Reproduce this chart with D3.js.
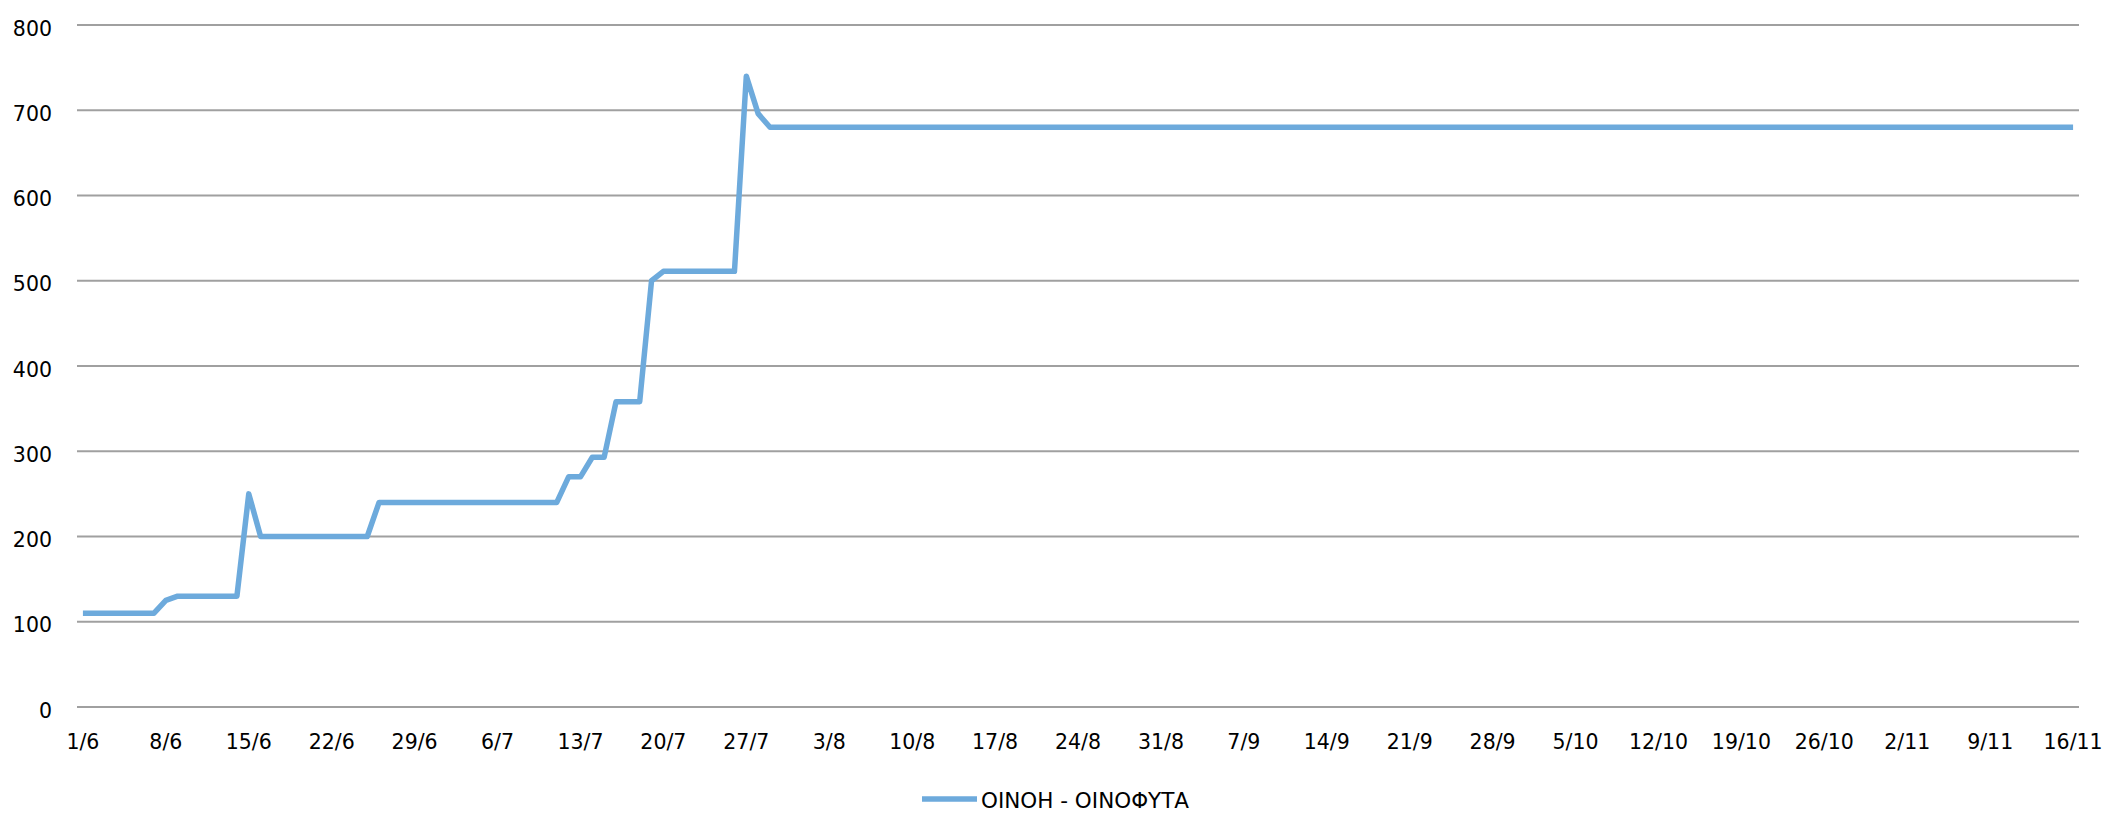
<!DOCTYPE html>
<html>
<head>
<meta charset="utf-8">
<script src="https://cdn.jsdelivr.net/npm/d3@7"></script>
<style>
  html, body { margin: 0; padding: 0; background: #ffffff; }
  svg { display: block; }
  text { font-family: "DejaVu Sans", Verdana, sans-serif; fill: #000; }
</style>
</head>
<body>
<svg id="chart" width="2109" height="840"></svg>
<script>
// ---- Data ----
const dates = [
  "1/6","2/6","3/6","4/6","5/6","6/6","7/6","8/6","9/6","10/6","11/6","12/6","13/6","14/6","15/6","16/6","17/6","18/6","19/6","20/6","21/6","22/6","23/6","24/6","25/6","26/6","27/6","28/6","29/6","30/6",
  "1/7","2/7","3/7","4/7","5/7","6/7","7/7","8/7","9/7","10/7","11/7","12/7","13/7","14/7","15/7","16/7","17/7","18/7","19/7","20/7","21/7","22/7","23/7","24/7","25/7","26/7","27/7","28/7","29/7","30/7","31/7",
  "1/8","2/8","3/8","4/8","5/8","6/8","7/8","8/8","9/8","10/8","11/8","12/8","13/8","14/8","15/8","16/8","17/8","18/8","19/8","20/8","21/8","22/8","23/8","24/8","25/8","26/8","27/8","28/8","29/8","30/8","31/8",
  "1/9","2/9","3/9","4/9","5/9","6/9","7/9","8/9","9/9","10/9","11/9","12/9","13/9","14/9","15/9","16/9","17/9","18/9","19/9","20/9","21/9","22/9","23/9","24/9","25/9","26/9","27/9","28/9","29/9","30/9",
  "1/10","2/10","3/10","4/10","5/10","6/10","7/10","8/10","9/10","10/10","11/10","12/10","13/10","14/10","15/10","16/10","17/10","18/10","19/10","20/10","21/10","22/10","23/10","24/10","25/10","26/10","27/10","28/10","29/10","30/10","31/10",
  "1/11","2/11","3/11","4/11","5/11","6/11","7/11","8/11","9/11","10/11","11/11","12/11","13/11","14/11","15/11","16/11"
];

const values = [
  // June
  110,110,110,110,110,110,110,125,130,130,130,130,130,130,250,200,200,200,200,200,200,200,200,200,200,240,240,240,240,240,
  // July
  240,240,240,240,240,240,240,240,240,240,240,270,270,293,293,358,358,358,500,511,511,511,511,511,511,511,740,696,680,680,680,
  // August
  680,680,680,680,680,680,680,680,680,680,680,680,680,680,680,680,680,680,680,680,680,680,680,680,680,680,680,680,680,680,680,
  // September
  680,680,680,680,680,680,680,680,680,680,680,680,680,680,680,680,680,680,680,680,680,680,680,680,680,680,680,680,680,680,
  // October
  680,680,680,680,680,680,680,680,680,680,680,680,680,680,680,680,680,680,680,680,680,680,680,680,680,680,680,680,680,680,680,
  // November
  680,680,680,680,680,680,680,680,680,680,680,680,680,680,680,680
];

const xTickLabels = ["1/6","8/6","15/6","22/6","29/6","6/7","13/7","20/7","27/7","3/8","10/8","17/8","24/8","31/8","7/9","14/9","21/9","28/9","5/10","12/10","19/10","26/10","2/11","9/11","16/11"];
const yTicks = [0,100,200,300,400,500,600,700,800];
const seriesName = "ΟΙΝΟΗ - ΟΙΝΟΦΥΤΑ";

// ---- Layout ----
const svg = d3.select("#chart");
const plot = { left: 77, right: 2079, top: 25, bottom: 707 };

const x = d3.scaleBand()
  .domain(dates)
  .range([plot.left, plot.right])
  .paddingInner(0).paddingOuter(0);
const xc = d => x(d) + x.bandwidth() / 2;

const y = d3.scaleLinear()
  .domain([0, 800])
  .range([plot.bottom, plot.top]);

// Gridlines
svg.append("g")
  .selectAll("line")
  .data(yTicks)
  .join("line")
  .attr("x1", plot.left)
  .attr("x2", plot.right)
  .attr("y1", d => y(d))
  .attr("y2", d => y(d))
  .attr("stroke", "#a0a0a0")
  .attr("stroke-width", 2);

// Y axis labels
const yAxis = d3.axisLeft(y).tickValues(yTicks).tickSize(0).tickPadding(0);
const yg = svg.append("g")
  .attr("transform", `translate(52,0)`)
  .call(yAxis);
yg.select(".domain").remove();
yg.selectAll("text")
  .attr("font-size", 20.5)
  .attr("font-family", "DejaVu Sans")
  .attr("text-anchor", "end")
  .attr("dy", "0.35em")
  .attr("y", 3)
  .attr("fill", "#000");

// X axis labels
const xAxis = d3.axisBottom(x).tickValues(xTickLabels).tickSize(0).tickPadding(0);
const xg = svg.append("g")
  .attr("transform", `translate(0,${plot.bottom})`)
  .call(xAxis);
xg.select(".domain").remove();
xg.selectAll("text")
  .attr("font-size", 20.5)
  .attr("font-family", "DejaVu Sans")
  .attr("dy", 0)
  .attr("y", 42)
  .attr("fill", "#000");

// Line
const line = d3.line()
  .x((d, i) => xc(dates[i]))
  .y(d => y(d));

svg.append("path")
  .datum(values)
  .attr("d", line)
  .attr("fill", "none")
  .attr("stroke", "#6daadc")
  .attr("stroke-width", 5.5)
  .attr("stroke-linejoin", "round")
  .attr("stroke-linecap", "butt");

// Legend
const lg = svg.append("g");
lg.append("line")
  .attr("x1", 922).attr("x2", 977)
  .attr("y1", 799).attr("y2", 799)
  .attr("stroke", "#6daadc")
  .attr("stroke-width", 5.5);
lg.append("text")
  .attr("x", 981)
  .attr("y", 808)
  .attr("font-size", 21.5)
  .text(seriesName);
</script>
</body>
</html>
